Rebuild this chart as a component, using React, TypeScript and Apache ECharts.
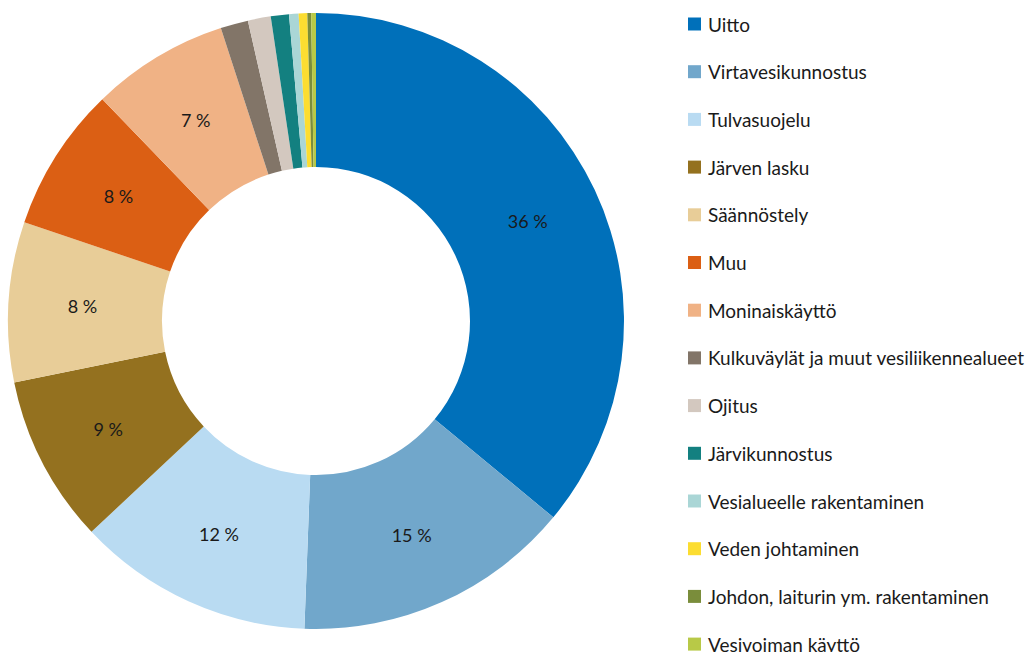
import React, { useEffect, useRef } from "react";
import * as echarts from "echarts";

const categories = [
  "Uitto",
  "Virtavesikunnostus",
  "Tulvasuojelu",
  "Järven lasku",
  "Säännöstely",
  "Muu",
  "Moninaiskäyttö",
  "Kulkuväylät ja muut vesiliikennealueet",
  "Ojitus",
  "Järvikunnostus",
  "Vesialueelle rakentaminen",
  "Veden johtaminen",
  "Johdon, laiturin ym. rakentaminen",
  "Vesivoiman käyttö",
];

const shares = [36.0, 14.6, 12.4, 8.8, 8.4, 7.6, 7.2, 1.45, 1.2, 0.95, 0.5, 0.45, 0.2, 0.25];

const colors = [
  "#0070BA",
  "#71A7CB",
  "#B9DBF2",
  "#94711F",
  "#E8CD98",
  "#DB5F14",
  "#F0B285",
  "#827568",
  "#D3C8BF",
  "#138080",
  "#AAD6D6",
  "#FCDD31",
  "#7A8D3B",
  "#B8C947",
];

const FONT = "Lato, 'Noto Sans', sans-serif";

export default function App() {
  const ref = useRef<HTMLDivElement>(null);
  useEffect(() => {
    document.body.style.margin = "0";
    if (!ref.current) return;
    const chart = echarts.init(ref.current, undefined, { renderer: "svg" });
    chart.setOption({
      animation: false,
      color: colors,
      legend: {
        orient: "vertical",
        left: 683,
        top: 9,
        height: 900,
        itemWidth: 13,
        itemHeight: 13,
        itemGap: 27.7,
        icon: "rect",
        textStyle: {
          fontFamily: FONT,
          fontSize: 19,
          lineHeight: 20,
          color: "#1a1a1a",
          padding: [0, 0, 0, 2],
        },
        data: categories,
      },
      series: [
        {
          type: "pie",
          center: [316, 321],
          radius: [154, 308],
          startAngle: 90,
          clockwise: true,
          avoidLabelOverlap: false,
          label: {
            show: true,
            position: "inside",
            fontFamily: FONT,
            fontSize: 18,
            color: "#1a1a1a",
            formatter: (p: any) => (p.value >= 5 ? `${Math.round(p.value)} %` : ""),
          },
          labelLine: { show: false },
          emphasis: { disabled: true },
          itemStyle: { borderWidth: 0 },
          data: categories.map((name, i) => ({ name, value: shares[i] })),
        },
      ],
    });
    return () => chart.dispose();
  }, []);
  return <div ref={ref} style={{ width: 1035, height: 652 }} />;
}
